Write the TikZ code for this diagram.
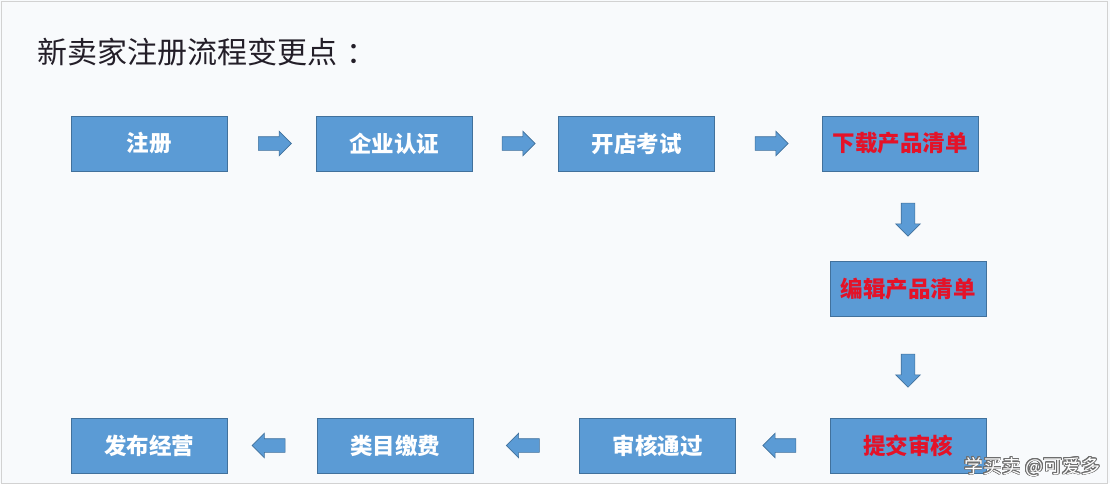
\documentclass[tikz,border=0pt]{standalone}
\usepackage{fontspec}
\newfontfamily\cjk{Noto Sans CJK SC}
\usepackage{contour}
\contourlength{0.7pt}
\usetikzlibrary{shapes.arrows,calc}
\definecolor{boxblue}{RGB}{91,155,213}
\definecolor{boxedge}{RGB}{65,113,156}
\definecolor{hl}{RGB}{228,18,40}
\definecolor{bg}{RGB}{248,250,252}
\definecolor{titlec}{RGB}{35,30,40}
\definecolor{wmedge}{RGB}{110,110,110}
\tikzset{
  stepbox/.style={draw=boxedge, line width=0.8pt, fill=boxblue,
    minimum width=156pt, minimum height=55pt, inner sep=0pt,
    font=\cjk\bfseries\fontsize{22.5}{22.5}\selectfont, text=white},
  redbox/.style={stepbox, text=hl},
  barrow/.style={single arrow, draw=boxedge, fill=boxblue, line width=0.6pt,
    minimum height=33pt, inner sep=6.5pt, single arrow head extend=5.5pt,
    single arrow tip angle=90, single arrow head indent=0pt},
}
\begin{document}
\begin{tikzpicture}[x=1pt,y=-1pt]
\useasboundingbox (0,0) rectangle (1110,483);
\fill[bg] (0,0) rectangle (1110,483);
\draw[gray!35, line width=0.6pt] (1,1) rectangle (1107,483);

\node[anchor=west, font=\cjk\fontsize{30}{30}\selectfont, text=titlec] (title) at (34,52) {新卖家注册流程变更点\hspace{9pt}：};

\node[stepbox] (reg)    at (149,143.5)   {注册};
\node[stepbox] (auth)   at (394,143.5)   {企业认证};
\node[stepbox] (exam)   at (636.5,143.5) {开店考试};
\node[redbox]  (dl)     at (900,143.5)   {下载产品清单};
\node[redbox]  (edit)   at (908,289)     {编辑产品清单};
\node[redbox]  (submit) at (908,445.5)   {提交审核};
\node[stepbox] (pass)   at (657.5,445.5) {审核通过};
\node[stepbox] (fee)    at (395,445.5)   {类目缴费};
\node[stepbox] (pub)    at (149,445.5)   {发布经营};

\node[barrow] (a1) at ($(reg.east)!0.5!(auth.west)$) {};
\node[barrow] (a2) at ($(auth.east)!0.5!(exam.west)$) {};
\node[barrow] (a3) at ($(exam.east)!0.5!(dl.west)$) {};
\node[barrow, shape border rotate=270] (a4) at ($(dl.south -| edit.center)!0.5!(edit.north)$) {};
\node[barrow, shape border rotate=270] (a5) at ($(edit.south)!0.5!(submit.north)$) {};
\node[barrow, shape border rotate=180] (a6) at ($(submit.west)!0.5!(pass.east)$) {};
\node[barrow, shape border rotate=180] (a7) at ($(pass.west)!0.5!(fee.east)$) {};
\node[barrow, shape border rotate=180] (a8) at ($(fee.west)!0.5!(pub.east)$) {};

\node[anchor=east, font=\cjk\fontsize{19}{19}\selectfont, text=white] (wm) at (1104,467) {\contour{wmedge}{学买卖 @可爱多}};
\end{tikzpicture}
\end{document}
